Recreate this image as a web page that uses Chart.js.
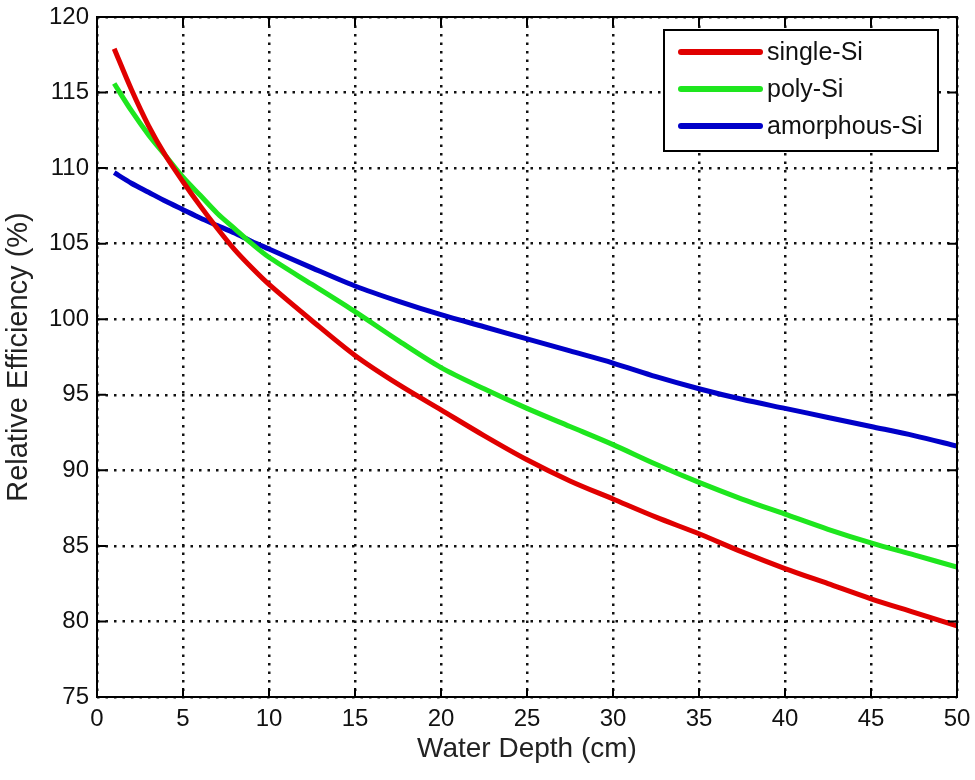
<!DOCTYPE html>
<html>
<head>
<meta charset="utf-8">
<script src="https://cdn.jsdelivr.net/npm/chart.js@4/dist/chart.umd.min.js"></script>
<style>
  html, body { margin: 0; padding: 0; background: #fff; }
  #wrap { width: 975px; height: 780px; }
</style>
</head>
<body>
<div id="wrap"><canvas id="effChart" width="975" height="780"></canvas></div>
<script>
// water depth (cm)
const depth = [1, 2, 3, 4, 5, 6, 7, 8, 9, 10, 12.5, 15, 17.5, 20, 22.5, 25, 27.5, 30, 32.5, 35, 37.5, 40, 42.5, 45, 47.5, 50]

// relative efficiency (%)
const singleSi = [117.9, 115.2, 112.8, 110.8, 109.1, 107.5, 106.0, 104.6, 103.4, 102.3, 99.9, 97.6, 95.7, 94.0, 92.3, 90.7, 89.3, 88.1, 86.9, 85.8, 84.6, 83.5, 82.5, 81.5, 80.6, 79.7]
const polySi = [115.6, 113.8, 112.2, 110.8, 109.4, 108.2, 107.0, 106.0, 105.0, 104.1, 102.3, 100.5, 98.6, 96.8, 95.4, 94.1, 92.9, 91.7, 90.4, 89.2, 88.1, 87.1, 86.1, 85.2, 84.4, 83.6]
const amorphousSi = [109.7, 109.0, 108.4, 107.8, 107.25, 106.7, 106.2, 105.7, 105.15, 104.65, 103.4, 102.2, 101.2, 100.3, 99.5, 98.7, 97.9, 97.1, 96.2, 95.4, 94.7, 94.1, 93.5, 92.9, 92.3, 91.6]

const xTicks = [0, 5, 10, 15, 20, 25, 30, 35, 40, 45, 50]
const yTicks = [75, 80, 85, 90, 95, 100, 105, 110, 115, 120]

const seriesNames = ['single-Si', 'poly-Si', 'amorphous-Si']
const seriesColors = ['#e00000', '#1ee61e', '#0000c8']

const FONT = '"Liberation Sans", Arial, sans-serif'

const toPoints = ys => depth.map((x, i) => ({ x, y: ys[i] }))

const datasets = [singleSi, polySi, amorphousSi].map((ys, i) => ({
  label: seriesNames[i],
  data: toPoints(ys),
  borderColor: seriesColors[i],
  backgroundColor: seriesColors[i],
  borderWidth: 5,
  pointRadius: 0,
  tension: 0.3,
  fill: false
}))

// frame, inward ticks on all four sides, and the boxed legend
const matlabFrame = {
  id: 'matlabFrame',
  afterDatasetsDraw(chart) {
    const { ctx, chartArea: a, scales } = chart
    ctx.save()
    ctx.strokeStyle = '#000'
    ctx.lineWidth = 2
    ctx.strokeRect(a.left, a.top, a.right - a.left, a.bottom - a.top)

    const tl = 9
    ctx.beginPath()
    xTicks.forEach(v => {
      const px = scales.x.getPixelForValue(v)
      ctx.moveTo(px, a.bottom); ctx.lineTo(px, a.bottom - tl)
      ctx.moveTo(px, a.top); ctx.lineTo(px, a.top + tl)
    })
    yTicks.forEach(v => {
      const py = scales.y.getPixelForValue(v)
      ctx.moveTo(a.left, py); ctx.lineTo(a.left + tl, py)
      ctx.moveTo(a.right, py); ctx.lineTo(a.right - tl, py)
    })
    ctx.stroke()

    // legend box
    const bx = 664, by = 30, bw = 274, bh = 121
    ctx.fillStyle = '#fff'
    ctx.fillRect(bx, by, bw, bh)
    ctx.lineWidth = 2
    ctx.strokeRect(bx, by, bw, bh)
    ctx.font = '25px ' + FONT
    ctx.textBaseline = 'middle'
    chart.data.datasets.forEach((ds, i) => {
      const y = by + 22 + i * 37
      ctx.strokeStyle = ds.borderColor
      ctx.lineWidth = 6
      ctx.lineCap = 'round'
      ctx.beginPath()
      ctx.moveTo(bx + 17, y); ctx.lineTo(bx + 96, y)
      ctx.stroke()
      ctx.fillStyle = '#111'
      ctx.fillText(ds.label, bx + 103, y + 1)
    })
    ctx.restore()
  }
}

const ctx = document.getElementById('effChart').getContext('2d')

const chart = new Chart(ctx, {
  type: 'line',
  data: { datasets },
  plugins: [matlabFrame],
  options: {
    responsive: false,
    animation: false,
    layout: { padding: { top: 17, right: 18, left: 0, bottom: 0 } },
    plugins: {
      legend: { display: false },
      tooltip: { enabled: false }
    },
    scales: {
      x: {
        type: 'linear',
        min: 0,
        max: 50,
        afterBuildTicks: s => { s.ticks = xTicks.map(v => ({ value: v })) },
        afterFit: s => {
          s.height = 83
          s.paddingLeft = 0
          s.paddingRight = 0
        },
        grid: {
          color: '#111',
          lineWidth: 2.5,
          drawTicks: false
        },
        border: { display: false, dash: [2.5, 6] },
        ticks: {
          color: '#111',
          padding: 8,
          font: { family: FONT, size: 24 },
          maxRotation: 0
        },
        title: {
          display: true,
          text: 'Water Depth (cm)',
          color: '#222',
          font: { family: FONT, size: 28 },
          padding: { top: 0, bottom: 14 }
        }
      },
      y: {
        min: 75,
        max: 120,
        afterBuildTicks: s => { s.ticks = yTicks.map(v => ({ value: v })) },
        afterFit: s => {
          s.width = 97
          s.paddingTop = 0
          s.paddingBottom = 0
        },
        grid: {
          color: '#111',
          lineWidth: 2.5,
          drawTicks: false
        },
        border: { display: false, dash: [2.5, 6] },
        ticks: {
          color: '#111',
          padding: 8,
          font: { family: FONT, size: 24 }
        },
        title: {
          display: true,
          text: 'Relative Efficiency (%)',
          color: '#222',
          font: { family: FONT, size: 29 },
          padding: { top: 2, bottom: 0 }
        }
      }
    }
  }
})
</script>
</body>
</html>
